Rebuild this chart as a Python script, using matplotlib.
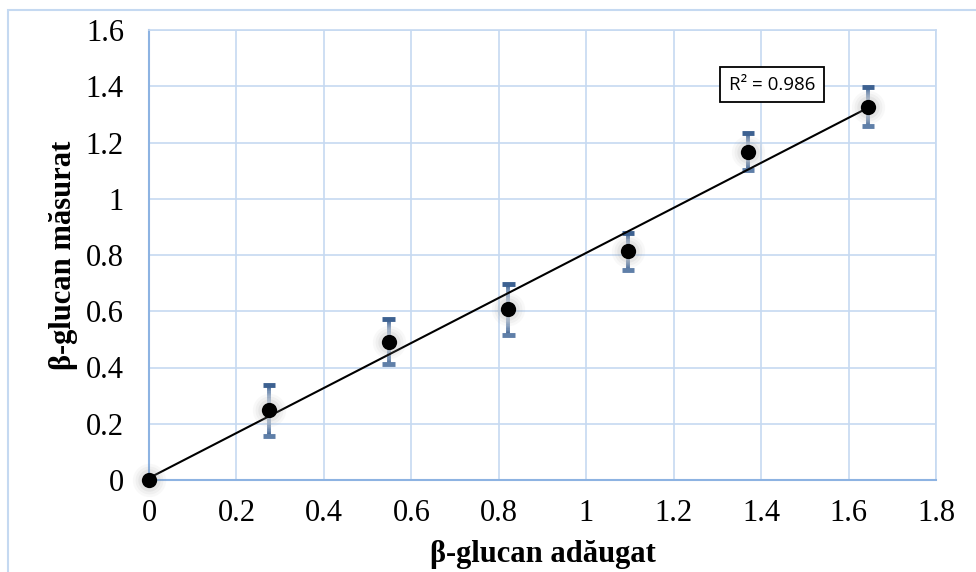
import numpy as np
import matplotlib
matplotlib.use("Agg")
import matplotlib.pyplot as plt
from matplotlib.patches import Rectangle
from matplotlib.collections import LineCollection
from matplotlib.colors import to_rgb

# data
x_added = [0.0, 0.274, 0.548, 0.822, 1.096, 1.37, 1.644]
y_measured = [0.0, 0.248, 0.492, 0.607, 0.813, 1.168, 1.327]
y_err = [0.0, 0.09, 0.08, 0.09, 0.065, 0.065, 0.07]
x_ticks = [0, 0.2, 0.4, 0.6, 0.8, 1, 1.2, 1.4, 1.6, 1.8]
x_ticklabels = ["0", "0.2", "0.4", "0.6", "0.8", "1", "1.2", "1.4", "1.6", "1.8"]
y_ticks = [0, 0.2, 0.4, 0.6, 0.8, 1, 1.2, 1.4, 1.6]
y_ticklabels = ["0", "0.2", "0.4", "0.6", "0.8", "1", "1.2", "1.4", "1.6"]
r2_text = "R² = 0.986"
x_label = "β-glucan adăugat"
y_label = "β-glucan măsurat"

fig = plt.figure(figsize=(9.76, 5.72), dpi=100)
fig.patch.set_facecolor("white")
# outer chart frame
fig.patches.append(Rectangle((8/976, -0.05), 1.2, (572-10)/572 + 0.05, transform=fig.transFigure,
                             fill=False, edgecolor="#c5d9f1", linewidth=1.5, zorder=0))

ax = fig.add_axes([149/976, (572-480)/572, (936-149)/976, (480-30)/572])
ax.set_xlim(0, 1.8)
ax.set_ylim(0, 1.6)
ax.set_xticks(x_ticks)
ax.set_xticklabels(x_ticklabels)
ax.set_yticks(y_ticks)
ax.set_yticklabels(y_ticklabels)
ax.grid(True, color="#c6d9f1", linewidth=1.2)
ax.set_axisbelow(True)
for s in ["top", "right"]:
    ax.spines[s].set_color("#c6d9f1")
    ax.spines[s].set_linewidth(1.2)
for s in ["left", "bottom"]:
    ax.spines[s].set_color("#8db3e2")
    ax.spines[s].set_linewidth(1.5)
ax.tick_params(length=0, labelsize=22, pad=14)
for lab in ax.get_xticklabels() + ax.get_yticklabels():
    lab.set_fontfamily("Liberation Serif")
ax.tick_params(axis="y", pad=18)

ax.set_xlabel(x_label, fontsize=22, fontweight="bold", fontfamily="Liberation Serif", labelpad=8)
ax.set_ylabel(y_label, fontsize=22, fontweight="bold", fontfamily="Liberation Serif", labelpad=6)

# trendline
xa = np.array(x_added)
ya = np.array(y_measured)
m, b = np.polyfit(xa, ya, 1)
xl = np.array([xa.min(), xa.max()])
ax.plot(xl, m * xl + b, color="black", linewidth=1.5, zorder=3)

# error bars with gradient
dark = np.array(to_rgb("#3d6191"))
light = np.array(to_rgb("#dde6f0"))
n = 20
for xi, yi, ei in zip(x_added, y_measured, y_err):
    if ei <= 0:
        continue
    for sign in (1, -1):
        ts = np.linspace(0, 1, n + 1)
        segs = []
        cols = []
        for k in range(n):
            y0 = yi + sign * ei * ts[k]
            y1 = yi + sign * ei * ts[k + 1]
            segs.append([(xi, y0), (xi, y1)])
            t = (ts[k] + ts[k + 1]) / 2
            cols.append(tuple(light + (dark - light) * t ** 1.5))
        ax.add_collection(LineCollection(segs, colors=cols, linewidths=2.8, zorder=2))
    ax.plot([xi - 0.014, xi + 0.014], [yi + ei, yi + ei], color="#3d6191", lw=3.5, solid_capstyle="butt", zorder=2)
    ax.plot([xi - 0.014, xi + 0.014], [yi - ei, yi - ei], color="#5f7fa8", lw=3.5, solid_capstyle="butt", zorder=2)

# glow + markers
for sz, a in [(24, 0.05), (20, 0.07), (16, 0.1)]:
    ax.plot(x_added, y_measured, "o", markersize=sz, color="#888888", alpha=a,
            markeredgewidth=0, zorder=4, clip_on=False)
ax.plot(x_added, y_measured, "o", markersize=11, color="black", markeredgewidth=0, zorder=5, clip_on=False)

# R^2 label
ax.text(772/976, (572-84.5)/572, r2_text, transform=fig.transFigure, ha="center", va="center",
        fontsize=13.5, fontfamily="Open Sans",
        bbox=dict(boxstyle="square,pad=0.45", facecolor="white", edgecolor="black", linewidth=1.3),
        zorder=6)

fig.savefig("out.png", dpi=100)
